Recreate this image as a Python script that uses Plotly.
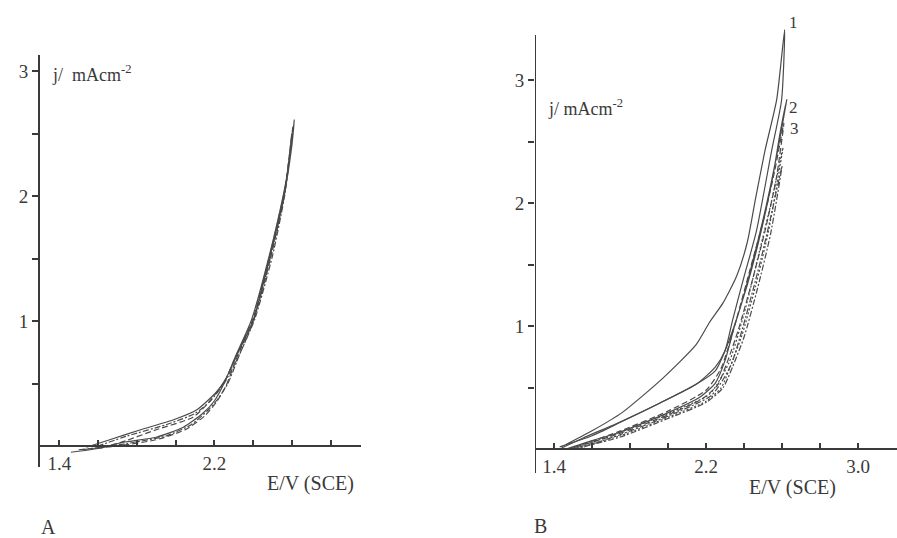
import plotly.graph_objects as go

# ---------------- Panel A data (E / V vs SCE, j / mA cm^-2) ----------------
a1_E = [1.46, 1.60, 1.73, 1.90, 2.04, 2.14, 2.20, 2.25, 2.31, 2.39, 2.48, 2.555, 2.59, 2.613,
        2.60, 2.56, 2.485, 2.40, 2.32, 2.26, 2.21, 2.11, 1.99, 1.82, 1.66, 1.54]
a1_j = [-0.05, -0.02, 0.03, 0.07, 0.15, 0.26, 0.36, 0.50, 0.72, 1.00, 1.50, 2.00, 2.30, 2.61,
        2.40, 2.00, 1.50, 1.00, 0.74, 0.54, 0.43, 0.29, 0.21, 0.13, 0.05, -0.01]

a2_E = [1.50, 1.70, 1.90, 2.05, 2.15, 2.21, 2.26, 2.32, 2.40, 2.49, 2.56, 2.60,
        2.57, 2.49, 2.40, 2.32, 2.25, 2.16, 2.09, 1.90, 1.70, 1.58]
a2_j = [-0.03, 0.00, 0.05, 0.13, 0.24, 0.35, 0.48, 0.72, 1.00, 1.50, 2.00, 2.50,
        2.10, 1.55, 1.02, 0.74, 0.51, 0.33, 0.23, 0.13, 0.02, -0.02]

a3_E = [1.52, 1.75, 1.95, 2.08, 2.17, 2.22, 2.27, 2.33, 2.41, 2.50, 2.565, 2.605,
        2.56, 2.48, 2.40, 2.32, 2.25, 2.18, 2.10, 1.95, 1.75, 1.60]
a3_j = [-0.03, 0.02, 0.08, 0.17, 0.29, 0.38, 0.50, 0.73, 1.02, 1.52, 2.02, 2.55,
        2.00, 1.45, 0.99, 0.70, 0.50, 0.36, 0.26, 0.17, 0.08, 0.00]

# ---------------- Panel B data ----------------
b1_E = [1.43, 1.60, 1.75, 1.95, 2.15, 2.25, 2.30, 2.34, 2.40, 2.465, 2.546, 2.598, 2.614,
        2.572, 2.511, 2.46, 2.417, 2.362, 2.288, 2.218, 2.148, 1.972, 1.76, 1.60, 1.44]
b1_j = [0.02, 0.11, 0.22, 0.37, 0.53, 0.67, 0.80, 1.05, 1.40, 1.77, 2.43, 2.84, 3.41,
        2.84, 2.43, 2.03, 1.68, 1.41, 1.185, 1.03, 0.85, 0.576, 0.30, 0.15, 0.02]

b2_E = [1.46, 1.60, 1.73, 1.99, 2.165, 2.25, 2.30, 2.35, 2.42, 2.49, 2.55, 2.59, 2.625,
        2.58, 2.52, 2.45, 2.38, 2.30, 2.25, 2.15, 1.95, 1.73, 1.55, 1.44]
b2_j = [0.00, 0.07, 0.13, 0.29, 0.42, 0.54, 0.72, 1.00, 1.35, 1.77, 2.20, 2.57, 2.84,
        2.45, 2.00, 1.55, 1.15, 0.80, 0.64, 0.53, 0.37, 0.21, 0.09, 0.01]

b3_E = [1.47, 1.73, 2.00, 2.18, 2.26, 2.31, 2.37, 2.44, 2.51, 2.57, 2.61,
        2.56, 2.50, 2.43, 2.35, 2.28, 2.20, 2.00, 1.75, 1.48]
b3_j = [0.00, 0.12, 0.28, 0.41, 0.52, 0.70, 0.97, 1.35, 1.77, 2.20, 2.65,
        2.25, 1.85, 1.45, 1.00, 0.66, 0.48, 0.31, 0.15, 0.00]

b4_E = [1.48, 1.75, 2.00, 2.20, 2.28, 2.33, 2.39, 2.46, 2.53, 2.605,
        2.55, 2.48, 2.40, 2.32, 2.22, 2.00, 1.75, 1.50]
b4_j = [0.00, 0.11, 0.26, 0.39, 0.50, 0.68, 0.93, 1.32, 1.78, 2.45,
        2.05, 1.60, 1.10, 0.70, 0.45, 0.29, 0.14, 0.00]

b5_E = [1.50, 1.75, 2.00, 2.20, 2.29, 2.34, 2.40, 2.47, 2.54, 2.60,
        2.55, 2.49, 2.41, 2.33, 2.23, 2.00, 1.75, 1.52]
b5_j = [0.00, 0.10, 0.25, 0.38, 0.50, 0.67, 0.91, 1.30, 1.75, 2.30,
        1.95, 1.55, 1.08, 0.68, 0.44, 0.27, 0.12, 0.00]

# ticks
a_xticks = [1.4, 2.2]
a_xminor = [1.6, 1.8, 2.0, 2.4, 2.6, 2.8]
b_xticks = [1.4, 2.2, 3.0]
b_xminor = [1.6, 1.8, 2.0, 2.4, 2.6, 2.8]
yticks = [1, 2, 3]
yminor = [0.5, 1.5, 2.5]

W, H = 897, 538
INK = "#3a3a3a"
LINE = "#4a4a4a"
FONT = "Times New Roman, Liberation Serif, DejaVu Serif, serif"

fig = go.Figure()

def add(E, j, dash, ax):
    fig.add_trace(go.Scatter(x=E, y=j, mode="lines", xaxis="x" + ax, yaxis="y" + ax,
                             line=dict(color=LINE, width=1.2, dash=dash, shape="spline", smoothing=0.6),
                             showlegend=False, hoverinfo="skip"))

add(a1_E, a1_j, "solid", "")
add(a2_E, a2_j, "6px,3px", "")
add(a3_E, a3_j, "6px,2px,2px,2px", "")
add(b1_E, b1_j, "solid", "2")
add(b2_E, b2_j, "solid", "2")
add(b3_E, b3_j, "6px,3px", "2")
add(b4_E, b4_j, "2px,2px", "2")
add(b5_E, b5_j, "6px,2px,2px,2px", "2")

def px_x(p):
    return p / W

def px_y(p):
    return (H - p) / H

# Panel A geometry
a_xrange = [1.4 - 19.3 / 193.75, 1.4 + 301.7 / 193.75]
a_yrange = [(446 - 467) / 125.0, (446 - 55) / 125.0]
# Panel B geometry
b_xrange = [1.4 - 19.0 / 190.0, 1.4 + 343.0 / 190.0]
b_ybottom = (449.3 - 473) / 123.1
b_ytopline = (449.3 - 35) / 123.1
b_yrange = [b_ybottom, 3.5]
b_ytop_px = 473 - (3.5 - b_ybottom) * 123.1

tickfont = dict(family=FONT, size=19, color=INK)

def xax(domain, rng, pos, vals, minor):
    return dict(domain=domain, range=rng, anchor="free", position=pos,
                showline=True, linecolor=INK, linewidth=2, showgrid=False, zeroline=False,
                ticks="inside", ticklen=5, tickwidth=1.5, tickcolor=INK,
                tickvals=vals, ticktext=[f"{v:.1f}" for v in vals], tickfont=tickfont,
                minor=dict(tickvals=minor, ticks="inside", ticklen=5, tickwidth=1.5,
                           tickcolor=INK, showgrid=False))

def yax(domain, rng, anchor, showline):
    return dict(domain=domain, range=rng, anchor=anchor,
                showline=showline, linecolor=INK, linewidth=2, showgrid=False, zeroline=False,
                ticks="outside", ticklen=6, tickwidth=1.5, tickcolor=INK,
                tickvals=yticks, ticktext=[str(v) for v in yticks], tickfont=tickfont,
                minor=dict(tickvals=yminor, ticks="outside", ticklen=6, tickwidth=1.5,
                           tickcolor=INK, showgrid=False))

fig.update_layout(
    width=W, height=H, margin=dict(l=0, r=0, t=0, b=0),
    paper_bgcolor="white", plot_bgcolor="rgba(0,0,0,0)",
    xaxis=xax([px_x(40), px_x(361)], a_xrange, px_y(446), a_xticks, a_xminor),
    yaxis=yax([px_y(467), px_y(55)], a_yrange, "x", True),
    xaxis2=xax([px_x(535), 1.0], b_xrange, px_y(449.3), b_xticks, b_xminor),
    yaxis2=yax([px_y(473), px_y(b_ytop_px)], b_yrange, "x2", False),
)

# B y-axis line (stops below the top of curve 1)
fig.add_shape(type="line", xref="x2", yref="y2", x0=b_xrange[0], x1=b_xrange[0],
              y0=b_ybottom, y1=b_ytopline, line=dict(color=INK, width=2))

txt = dict(family=FONT, size=18, color=INK)
big = dict(family=FONT, size=20, color=INK)
ann = [
    dict(x=px_x(50), y=px_y(73), text="j/  mAcm<sup>-2</sup>", xanchor="left", yanchor="middle", font=txt),
    dict(x=px_x(546), y=px_y(108), text="j/ mAcm<sup>-2</sup>", xanchor="left", yanchor="middle", font=txt),
    dict(x=px_x(310), y=px_y(483), text="E/V (SCE)", xanchor="center", yanchor="middle", font=big),
    dict(x=px_x(792), y=px_y(487), text="E/V (SCE)", xanchor="center", yanchor="middle", font=big),
    dict(x=px_x(39), y=px_y(527), text="A", xanchor="left", yanchor="middle", font=big),
    dict(x=px_x(532), y=px_y(526), text="B", xanchor="left", yanchor="middle", font=big),
]
for a in ann:
    fig.add_annotation(xref="paper", yref="paper", showarrow=False, **a)

curve_labels = ["1", "2", "3"]
label_E = [2.658, 2.658, 2.668]
label_j = [3.47, 2.78, 2.61]
for t, e, jj in zip(curve_labels, label_E, label_j):
    fig.add_annotation(xref="x2", yref="y2", x=e, y=jj, text=t, showarrow=False,
                       font=dict(family=FONT, size=17, color=INK), xanchor="center", yanchor="middle")

fig.write_html("out.html", config={"displayModeBar": False},
               post_script="document.body.style.margin='0px';")
